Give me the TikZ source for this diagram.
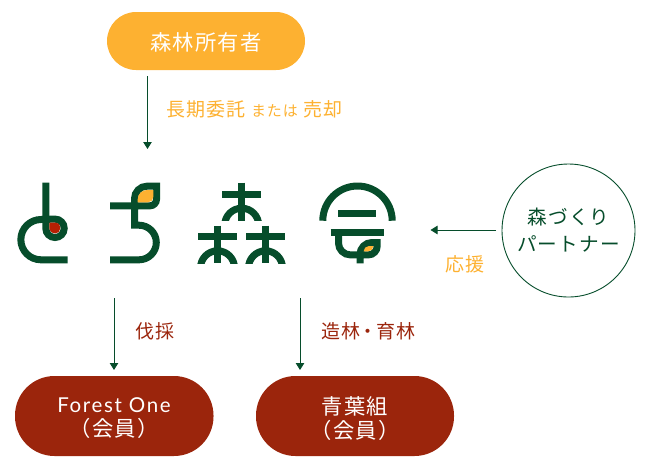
\documentclass[tikz,border=0pt]{standalone}
\usepackage{fontspec}
\setmainfont{Noto Sans CJK JP}[LetterSpace=6]
\newfontfamily\latinf{Lato}[LetterSpace=8]
\definecolor{grn}{HTML}{064D2B}
\definecolor{org}{HTML}{FDB131}
\definecolor{brn}{HTML}{9B250C}
\definecolor{leafred}{HTML}{B52003}
\usetikzlibrary{arrows.meta}
\tikzset{
  x=1pt,y=-1pt,
  pill/.style={text=white,font=\fontsize{21.3}{24}\selectfont,align=center,inner sep=0pt},
  logostroke/.style={draw=grn,line width=7pt,line cap=butt,line join=miter},
  thin arrow/.style={draw=grn,line width=0.9pt,-{Triangle[length=7pt,width=8.5pt]}},
  lab/.style={font=\fontsize{19}{20}\selectfont,inner sep=0pt,anchor=west},
}
\begin{document}
\begin{tikzpicture}
\useasboundingbox (0,0) rectangle (650,467);
% pills
\fill[org] (107,12) [rounded corners=29pt] rectangle (305,70);
\node[pill] (owner) at (206,42.5) {森林所有者};
\fill[brn] (15,376) [rounded corners=39.5pt] rectangle (213.5,456);
\node[pill] (fone) at (114,418.5) {{\latinf\fontsize{20.5}{24}\selectfont Forest One}\\（会員）};
\fill[brn] (256,376) [rounded corners=39.5pt] rectangle (454,456);
\node[pill] (aoba) at (355,418.5) {青葉組\\（会員）};
% circle
\node[circle,draw=grn,line width=0.9pt,minimum size=133pt,inner sep=0pt,align=center,text=grn,font=\fontsize{19.6}{27}\selectfont] (partner) at (568.5,230.5) {森づくり\\パートナー};
% connector ends
\coordinate (a1) at (147.5,76); \coordinate (a2) at (147.5,149);
\coordinate (b1) at (496,230); \coordinate (b2) at (430.5,230);
\coordinate (c1) at (114,298); \coordinate (c2) at (114,370);
\coordinate (d1) at (300,298); \coordinate (d2) at (300,370);
\draw[thin arrow] (a1) -- (a2);
\draw[thin arrow] (b1) -- (b2);
\draw[thin arrow] (c1) -- (c2);
\draw[thin arrow] (d1) -- (d2);
% labels
\node[lab,text=org] (l1) at (166,109) {長期委託 {\fontsize{15}{16}\selectfont または} 売却};
\node[lab,text=org] (l2) at (445,264) {応援};
\node[lab,text=brn] (l3) at (135,331) {伐採};
\node[lab,text=brn] (l4) at (321,331) {造林\hspace{-1.5pt}・\hspace{-1.5pt}育林};
% logo 1
\draw[logostroke] (45.8,182.7) -- (45.8,228.3) arc[start angle=180,end angle=0,radius=9.2] arc[start angle=0,end angle=-90,radius=9.2] -- (41,219.5) arc[start angle=-90,end angle=-270,radius=20.15] -- (67.7,259.8);
\fill[leafred] (49.3,222.7) -- (56,222.7) arc[start angle=-90,end angle=0,radius=4] -- (60,229) arc[start angle=0,end angle=90,radius=4.3] -- (55,233.3) arc[start angle=90,end angle=180,radius=5.7] -- cycle;
% logo 2
\draw[logostroke] (110,205.8) -- (150,205.8) arc[start angle=90,end angle=0,radius=6.5] -- (156.5,186.2) -- (147,186.2) arc[start angle=-90,end angle=-180,radius=12.5] -- (134.5,225.2) -- (139,225.2) arc[start angle=-90,end angle=90,radius=17.3] -- (110,259.8);
\fill[org] (153.3,190) -- (147,190) arc[start angle=-90,end angle=-180,radius=9.3] -- (137.7,202.3) -- (148,202.3) arc[start angle=90,end angle=0,radius=5.3] -- cycle;
% logo 3
\foreach \cx/\hy/\ty/\by in {241.7/194.2/182.7/220.7, 217.5/236.8/225.7/263.3, 265.5/236.8/225.7/263.3}{
  \draw[draw=grn,line width=6.8pt] (\cx-19.3,\hy) -- (\cx+19.3,\hy);
  \draw[draw=grn,line width=6.8pt] (\cx,\ty) -- (\cx,\by);
  \begin{scope}
    \clip (\cx-25,\by-25) rectangle (\cx+25,\by);
    \draw[logostroke] (\cx,\by+4.5) circle[radius=17];
  \end{scope}
}
% logo 4
\draw[logostroke] (322.8,220.7) arc[start angle=-180,end angle=0,radius=34.7];
\draw[draw=grn,line width=6.8pt] (338.3,213.3) -- (376,213.3);
\draw[draw=grn,line width=6.8pt] (330.7,232.7) -- (384,232.7);
\draw[logostroke] (338.5,236) -- (338.5,243) arc[start angle=180,end angle=90,radius=11.9] -- (360,254.9);
\draw[logostroke] (360,263.3) -- (360,254.5) arc[start angle=180,end angle=270,radius=12] -- (377.2,242.5) -- (377.2,246) arc[start angle=0,end angle=90,radius=8.9] -- (360,254.9);
\fill[org] (373.7,246) -- (369,246) arc[start angle=-90,end angle=-180,radius=5.4] -- (368,251.4) arc[start angle=90,end angle=0,radius=5.4] -- cycle;
\end{tikzpicture}
\end{document}
